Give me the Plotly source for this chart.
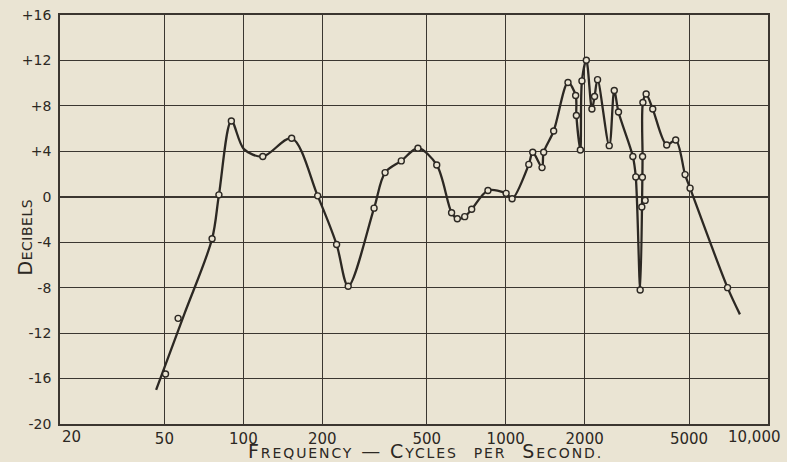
import numpy as np
import plotly.graph_objects as go

# ---- data ----
# smooth response curve (frequency in c.p.s., level in dB), in drawing order
curve_freq = [46.5, 59.5, 76, 80.7, 90, 100.5, 118.6, 152.8, 192, 226.7, 251, 315, 347,
              400, 463, 546, 622, 654, 698, 742, 856, 1004, 1058, 1225, 1268, 1376,
              1396, 1524, 1728, 1848, 1860, 1926, 1953, 2030, 2132, 2182, 2240, 2482,
              2594, 2692, 3054, 3133, 3256, 3320, 3325, 3335, 3432, 3636, 4110, 4448,
              4830, 5046, 7012, 7816]
curve_db = [-17.0, -10.35, -3.7, 0.17, 6.67, 4.2, 3.54, 5.15, 0.08, -4.2, -7.87, -1.0, 2.13,
            3.16, 4.27, 2.8, -1.4, -1.93, -1.75, -1.1, 0.55, 0.3, -0.18, 2.85, 3.92, 2.57,
            3.92, 5.79, 10.06, 8.92, 7.15, 4.12, 10.2, 12.02, 7.72, 8.83, 10.31, 4.5,
            9.36, 7.46, 3.54, 1.75, -8.2, 1.72, 3.54, 8.3, 9.04, 7.72, 4.56, 5.0,
            1.95, 0.76, -8.0, -10.35]

# measured points (small circles)
pt_freq = [50.5, 56.4, 76, 80.7, 90, 118.6, 152.8, 192, 226.7, 251, 315, 347,
           400, 463, 546, 622, 654, 698, 742, 856, 1004, 1058, 1225, 1268, 1376,
           1396, 1524, 1728, 1848, 1860, 1926, 1953, 2030, 2132, 2182, 2240, 2482,
           2594, 2692, 3054, 3133, 3256, 3320, 3325, 3335, 3432, 3636, 4110, 4448,
           4830, 5046, 7012, 3304, 3402]
pt_db = [-15.6, -10.7, -3.7, 0.17, 6.67, 3.54, 5.15, 0.08, -4.2, -7.87, -1.0, 2.13,
         3.16, 4.27, 2.8, -1.4, -1.93, -1.75, -1.1, 0.55, 0.3, -0.18, 2.85, 3.92, 2.57,
         3.92, 5.79, 10.06, 8.92, 7.15, 4.12, 10.2, 12.02, 7.72, 8.83, 10.31, 4.5,
         9.36, 7.46, 3.54, 1.75, -8.2, 1.72, 3.54, 8.3, 9.04, 7.72, 4.56, 5.0,
         1.95, 0.76, -8.0, -0.9, -0.32]

x_tick_vals = [20, 50, 100, 200, 500, 1000, 2000, 5000, 10000]
x_tick_text = ["20", "50", "100", "200", "500", "1000", "2000", "5000", "10,000"]
y_tick_vals = [16, 12, 8, 4, 0, -4, -8, -12, -16, -20]
y_tick_text = ["+16", "+12", "+8", "+4", "0", "-4", "-8", "-12", "-16", "-20"]

# ---- style ----
BG = "#eae4d3"
INK = "#2c2823"
GRID = "#3b3630"
FONT = "DejaVu Sans"

fig = go.Figure()
fig.add_trace(go.Scatter(
    x=curve_freq, y=curve_db, mode="lines",
    line=dict(color=INK, width=2.3, shape="spline", smoothing=0.9),
    hoverinfo="skip", showlegend=False))
fig.add_trace(go.Scatter(
    x=pt_freq, y=pt_db, mode="markers",
    marker=dict(size=6, color=BG, line=dict(color=INK, width=1.4)),
    showlegend=False))

# edge tick labels drawn separately so they can be nudged inward like the original
edge_text = [t if v in (20, 10000) else "" for v, t in zip(x_tick_vals, x_tick_text)]
axis_text = ["" if v in (20, 10000) else t for v, t in zip(x_tick_vals, x_tick_text)]

fig.update_xaxes(
    type="log", range=[np.log10(20), np.log10(10000)],
    tickvals=x_tick_vals, ticktext=axis_text, automargin=False,
    showgrid=True, gridcolor=GRID, gridwidth=1.4,
    showline=True, linecolor=GRID, linewidth=1.8, mirror=True,
    ticks="", ticklabelstandoff=0, tickfont=dict(family=FONT, size=15, color=INK),
    zeroline=False)
fig.update_yaxes(
    range=[-20, 16], tickvals=y_tick_vals, ticktext=y_tick_text, automargin=False,
    showgrid=True, gridcolor=GRID, gridwidth=1.4,
    showline=True, linecolor=GRID, linewidth=1.8, mirror=True,
    zeroline=True, zerolinecolor=GRID, zerolinewidth=2.2,
    ticks="", ticklabelstandoff=4, tickfont=dict(family=FONT, size=14, color=INK))

annotations = []
for v, t in zip(x_tick_vals, edge_text):
    if t:
        annotations.append(dict(
            x=np.log10(v), xref="x", y=0, yref="paper", yanchor="top",
            xanchor="left" if v == 20 else "right", yshift=-2,
            xshift=0 if v == 20 else 15,
            text=t, showarrow=False, font=dict(family=FONT, size=15, color=INK)))

sm = 'style="font-size:14px"'
x_title = (f'<span style="letter-spacing:1.9px">F<span {sm}>REQUENCY</span> — '
           f'C<span {sm}>YCLES</span>&nbsp;&nbsp;<span {sm}>PER</span>&nbsp;&nbsp;'
           f'S<span {sm}>ECOND.</span></span>')
annotations.append(dict(
    x=0.516, xref="paper", y=0, yref="paper", yanchor="top", yshift=-14,
    text=x_title, showarrow=False, font=dict(family=FONT, size=19, color=INK)))

y_title = f'<span style="letter-spacing:0.5px">D<span {sm}>ECIBELS</span></span>'
annotations.append(dict(
    x=-0.049, xref="paper", xanchor="center", y=0.457, yref="paper", yanchor="middle",
    textangle=-90, text=y_title, showarrow=False,
    font=dict(family=FONT, size=19, color=INK)))

fig.update_layout(
    width=787, height=462,
    margin=dict(l=60, r=19, t=15, b=38),
    paper_bgcolor=BG, plot_bgcolor=BG,
    annotations=annotations)

fig.write_html(
    "out.html",
    config={"displayModeBar": False},
    post_script=f"document.body.style.margin='0px';document.body.style.background='{BG}';")
